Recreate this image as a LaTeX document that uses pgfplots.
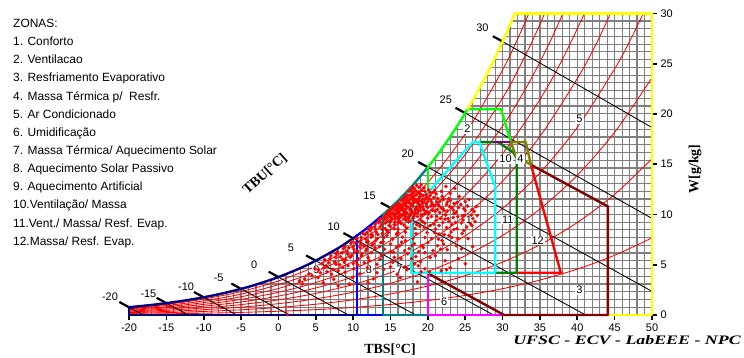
\documentclass[border=0pt]{standalone}
\usepackage{fontspec}
\setmainfont{Liberation Sans}
\newfontfamily\serifbf{Liberation Serif}
\usepackage{graphicx}
\usepackage{pgfplots}
\pgfplotsset{compat=1.18}
\definecolor{navyz}{RGB}{0,0,128}
\definecolor{bluez}{RGB}{0,0,255}
\definecolor{tealz}{RGB}{0,128,128}
\definecolor{limez}{RGB}{0,255,0}
\definecolor{cyanz}{RGB}{0,255,255}
\definecolor{dgreenz}{RGB}{0,128,0}
\definecolor{purplez}{RGB}{128,0,128}
\definecolor{olivez}{RGB}{128,128,0}
\definecolor{redz}{RGB}{255,0,0}
\definecolor{maroonz}{RGB}{128,0,0}
\definecolor{magentaz}{RGB}{255,0,255}
\definecolor{yellowz}{RGB}{255,255,0}
\definecolor{gridc}{RGB}{128,128,128}
\tikzset{
  zl/.style={fill=white, inner sep=1bp, font=\fontsize{11}{12}\selectfont},
  wl/.style={inner sep=0pt, font=\fontsize{11}{12}\selectfont},
  rh/.style={red, line width=0.85bp, smooth},
  wb/.style={black, line width=0.85bp},
  wt/.style={black, line width=2.2bp},
  zone/.style={line width=2.4bp, line join=round, line cap=round},
}
\begin{document}
\begin{tikzpicture}
\useasboundingbox (-129bp,-43bp) rectangle (615bp,315bp);
\begin{axis}[
  at={(0,0)}, anchor=south west,
  scale only axis, width=523bp, height=301.5bp,
  xmin=-20, xmax=50, ymin=0, ymax=30,
  clip=false,
  axis x line*=bottom, axis y line*=right,
  axis line style={draw=none},
  xtick={-20,-15,...,50}, ytick={0,5,...,30},
  minor xtick={-20,-19,...,50},
  minor ytick={0,0.77,...,30},
  grid=minor,
  minor grid style={draw=gridc, line width=1.2bp},
  minor tick length=0pt,
  major tick length=5bp,
  tick align=outside,
  major tick style={black, line width=1.6bp},
  tick label style={font=\fontsize{11}{12}\selectfont},
  /pgf/number format/assume math mode=true,
]
% white area above the saturation curve
\addplot[fill=white, draw=none] coordinates {(-20,0.771) (-18,0.920) (-16,1.085) (-14,1.280) (-12,1.505) (-10,1.762) (-8,2.063) (-6,2.407) (-4,2.803) (-2,3.255) (0,3.775) (2,4.364) (4,5.034) (6,5.795) (8,6.657) (10,7.632) (12,8.732) (14,9.973) (16,11.366) (18,12.938) (20,14.700) (22,16.667) (24,18.879) (25,20.088) (26,21.353) (27,22.696) (28,24.116) (29,25.616) (30,27.212) (31,28.883) (31.64,30) (31.7,30.5) (-20.5,30.5) (-20.5,0.771)};

% relative humidity curves
\addplot[rh] coordinates {(-20,0.077) (-15,0.118) (-10,0.176) (-5,0.259) (0,0.375) (5,0.536) (10,0.755) (15,1.049) (20,1.439) (25,1.952) (30,2.618) (35,3.475) (40,4.567) (45,5.946) (50,7.676)};
\addplot[rh] coordinates {(-20,0.154) (-15,0.236) (-10,0.352) (-5,0.518) (0,0.751) (5,1.073) (10,1.512) (15,2.101) (20,2.885) (25,3.916) (30,5.258) (35,6.989) (40,9.201) (45,12.008) (50,15.544)};
\addplot[rh] coordinates {(-20,0.231) (-15,0.353) (-10,0.528) (-5,0.777) (0,1.128) (5,1.611) (10,2.270) (15,3.157) (20,4.338) (25,5.893) (30,7.921) (35,10.542) (40,13.904) (45,18.187) (50,23.611)};
\addplot[rh] coordinates {(-20,0.308) (-15,0.471) (-10,0.704) (-5,1.037) (0,1.505) (5,2.150) (10,3.031) (15,4.217) (20,5.798) (25,7.882) (30,10.606) (35,14.136) (40,18.678) (45,24.488) (47,27.211) (48.84,30)};
\addplot[rh] coordinates {(-20,0.385) (-15,0.589) (-10,0.879) (-5,1.296) (0,1.882) (5,2.690) (10,3.793) (15,5.280) (20,7.264) (25,9.884) (30,13.315) (35,17.771) (40,23.524) (42.5,26.918) (44.43,30)};
\addplot[rh] coordinates {(-20,0.462) (-15,0.707) (-10,1.055) (-5,1.556) (0,2.260) (5,3.230) (10,4.557) (15,6.347) (20,8.737) (25,11.899) (30,16.046) (35,21.448) (38,25.418) (40.96,30)};
\addplot[rh] coordinates {(-20,0.539) (-15,0.824) (-10,1.231) (-5,1.816) (0,2.639) (5,3.771) (10,5.323) (15,7.417) (20,10.217) (25,13.926) (30,18.801) (33,22.409) (35,25.167) (36.5,27.427) (38.08,30)};
\addplot[rh] coordinates {(-20,0.616) (-15,0.942) (-10,1.407) (-5,2.076) (0,3.018) (5,4.313) (10,6.091) (15,8.492) (20,11.704) (25,15.967) (30,21.581) (32,24.285) (34,27.287) (35.63,30)};
\addplot[rh] coordinates {(-20,0.693) (-15,1.060) (-10,1.583) (-5,2.337) (0,3.396) (5,4.857) (10,6.860) (15,9.569) (20,13.199) (25,18.021) (30,24.384) (32,27.455) (33,29.11) (33.51,30)};

% wet bulb lines
\addplot[wb] coordinates {(-20,0.771) (-18.05,0)};
\addplot[wb] coordinates {(-15,1.178) (-12.03,0)};
\addplot[wb] coordinates {(-10,1.762) (-5.58,0)};
\addplot[wb] coordinates {(-5,2.598) (1.49,0)};
\addplot[wb] coordinates {(0,3.775) (9.385,0)};
\addplot[wb] coordinates {(5,5.403) (18.37,0)};
\addplot[wb] coordinates {(10,7.632) (28.80,0)};
\addplot[wb] coordinates {(15,10.651) (41.11,0)};
\addplot[wb] coordinates {(20,14.700) (50,2.35)};
\addplot[wb] coordinates {(25,20.088) (50,9.61)};
\addplot[wb] coordinates {(30,27.212) (50,18.65)};
% wet bulb ticks
\addplot[wt] coordinates {(-20,0.771) (-21.3,1.30)};
\addplot[wt] coordinates {(-15,1.178) (-16.3,1.71)};
\addplot[wt] coordinates {(-10,1.762) (-11.3,2.29)};
\addplot[wt] coordinates {(-5,2.598) (-6.3,3.13)};
\addplot[wt] coordinates {(0,3.775) (-1.3,4.31)};
\addplot[wt] coordinates {(5,5.403) (3.7,5.93)};
\addplot[wt] coordinates {(10,7.632) (8.7,8.16)};
\addplot[wt] coordinates {(15,10.651) (13.7,11.18)};
\addplot[wt] coordinates {(20,14.700) (18.7,15.23)};
\addplot[wt] coordinates {(25,20.088) (23.7,20.62)};
\addplot[wt] coordinates {(30,27.212) (28.7,27.74)};

% hourly climate data
\addplot[only marks, color=red, mark=*, mark size=1.6bp, mark options={draw=none, fill=red}] table[x=x, y=y] {
x y
17.9 12.75
18.2 12.6
18.5 12.9
18.8 12.7
19.1 12.95
19.5 12.65
17.5 12.3
17.8 12.45
18.1 12.2
18.4 12.35
18.8 12.25
19.2 12.4
19.6 12.3
20.1 12.45
20.7 12.2
16.9 11.75
17.2 11.95
17.5 11.9
17.8 12.05
18.1 11.8
18.5 11.95
18.9 12.1
19.3 11.85
19.8 12.0
20.3 11.9
21.1 12.05
16.4 11.4
16.7 11.55
17.0 11.45
17.3 11.65
17.7 11.5
18.0 11.7
18.4 11.45
18.8 11.6
19.3 11.5
19.8 11.7
20.4 11.45
21.3 11.6
22.1 11.5
15.8 10.95
16.1 11.15
16.4 11.0
16.7 11.25
17.0 11.1
17.4 11.3
17.8 11.05
18.2 11.2
18.7 11.1
19.2 11.3
19.8 11.05
20.5 11.2
21.4 11.0
22.6 11.25
23.5 11.1
15.3 10.7
15.6 10.85
15.9 10.6
16.2 10.8
16.6 10.65
17.0 10.9
17.5 10.7
18.0 10.85
18.6 10.6
19.3 10.8
20.0 10.7
20.9 10.9
21.8 10.65
22.9 10.8
24.1 10.7
25.3 10.85
14.7 10.3
15.0 10.45
15.3 10.2
15.7 10.4
16.1 10.25
16.5 10.5
17.0 10.3
17.6 10.45
18.3 10.2
19.0 10.4
19.8 10.3
20.7 10.45
21.6 10.2
22.6 10.35
23.8 10.25
25.0 10.4
26.2 10.3
14.2 9.85
14.5 10.0
14.8 9.9
15.2 10.05
15.7 9.8
16.2 9.95
16.8 10.1
17.5 9.85
18.2 10.0
19.1 9.9
20.1 10.05
21.2 9.8
22.4 9.95
23.5 10.1
24.6 9.85
25.8 9.95
13.5 9.45
13.8 9.6
14.2 9.5
14.6 9.65
15.1 9.4
15.6 9.55
16.3 9.7
17.1 9.45
18.0 9.6
19.0 9.5
20.0 9.65
21.1 9.4
22.3 9.55
23.4 9.7
24.7 9.45
26.0 9.6
13.0 9.05
13.4 9.2
13.8 9.0
14.3 9.15
14.9 9.25
15.5 9.0
16.4 9.1
17.4 9.25
18.5 9.0
19.6 9.15
20.8 9.05
22.0 9.2
23.2 9.0
24.5 9.15
25.7 9.1
12.1 8.6
12.5 8.7
13.0 8.55
13.6 8.75
14.3 8.6
15.0 8.8
16.0 8.55
17.1 8.7
18.3 8.6
19.5 8.75
21.0 8.55
22.5 8.7
23.9 8.6
25.2 8.75
11.3 8.1
11.8 8.2
12.4 8.05
13.1 8.25
13.9 8.1
14.7 8.2
15.8 8.05
17.0 8.25
18.4 8.1
19.9 8.2
21.5 8.05
23.1 8.25
24.6 8.1
10.5 7.6
11.1 7.7
11.7 7.55
12.4 7.75
13.2 7.6
14.1 7.7
15.3 7.55
16.6 7.75
18.0 7.6
19.6 7.7
21.4 7.55
23.2 7.7
9.7 7.1
10.3 7.2
11.0 7.05
11.8 7.25
12.7 7.1
13.7 7.2
15.0 7.05
16.5 7.25
18.2 7.1
20.0 7.2
22.1 7.05
8.7 6.6
9.4 6.7
10.1 6.55
10.9 6.75
11.8 6.6
12.9 6.7
14.2 6.55
15.8 6.75
17.5 6.6
19.4 6.7
21.7 6.55
7.7 6.1
8.5 6.2
9.3 6.05
10.2 6.25
11.2 6.1
12.4 6.2
13.8 6.05
15.4 6.25
17.3 6.1
19.6 6.2
6.9 5.6
7.7 5.7
8.6 5.55
9.6 5.75
10.7 5.6
12.0 5.7
13.6 5.55
15.5 5.75
17.8 5.6
20.3 5.7
5.8 5.1
6.7 5.2
7.7 5.05
8.8 5.25
10.0 5.1
11.5 5.2
13.2 5.05
15.3 5.25
18.2 5.1
4.9 4.6
6.1 4.7
7.3 4.55
8.6 4.75
10.1 4.6
11.9 4.7
14.1 4.55
16.8 4.75
19.6 4.6
4.1 4.1
5.6 4.2
7.1 4.05
8.9 4.25
10.9 4.1
13.2 4.2
15.9 4.05
20.2 4.3
3.5 3.6
5.3 3.7
7.4 3.55
9.9 3.75
12.7 3.6
16.3 3.7
3.2 3.1
6.0 3.2
9.5 3.1
15.4 10.1
15.9 10.3
16.4 10.6
16.9 10.5
17.3 10.75
17.7 11.0
18.1 11.4
18.5 11.3
18.9 11.75
19.4 11.9
16.0 9.6
16.6 9.9
17.2 10.15
17.8 10.35
18.4 10.6
18.9 10.95
19.5 11.2
20.1 11.6
15.0 9.75
15.6 10.0
16.3 10.0
17.0 9.8
17.7 10.1
18.6 10.15
19.4 10.55
20.4 10.85
14.5 9.3
15.2 9.6
16.0 9.2
16.8 9.55
17.6 9.9
18.6 9.8
19.6 10.1
20.6 10.4
21.3 10.5
22.0 10.6
21.6 11.3
22.8 11.6
23.2 10.7
24.4 11.0
20.9 12.4
21.8 12.3
23.0 12.1
24.2 11.8
25.5 11.5
26.5 10.8
22.4 12.8
23.6 12.6
1.2 0.05
22.5 4.5
18.6 3.3
12.0 3.2
8.0 2.9
2.8 3.4
14.4 9.7
14.6 10.1
14.9 10.2
15.1 10.5
15.4 10.55
15.5 9.85
15.8 10.15
15.9 10.75
16.1 9.75
16.3 10.45
16.5 10.95
16.7 10.35
16.8 11.0
17.0 10.05
17.1 10.6
17.3 11.25
17.4 9.65
17.5 11.15
17.7 10.55
17.8 11.75
17.9 10.2
18.0 11.1
18.1 9.8
18.2 11.55
18.3 10.45
18.4 11.95
18.5 10.75
18.6 12.1
18.7 10.35
18.8 11.35
19.0 10.7
19.1 11.95
19.2 10.0
19.3 11.1
19.5 10.4
19.6 11.5
19.8 10.8
20.0 11.3
20.2 10.2
20.3 12.2
20.6 11.0
20.8 11.7
21.0 10.3
21.2 11.25
21.5 10.85
21.9 11.8
22.2 10.4
22.5 11.0
23.0 11.4
23.4 10.45
23.9 11.2
24.8 10.6
25.0 11.3
25.9 10.5
16.2 9.35
17.6 9.35
19.3 9.3
20.5 9.8
21.7 9.6
22.8 9.3
24.0 9.8
15.6 9.25
14.8 8.9
16.8 8.95
18.9 8.85
20.3 8.9
6.2 5.5
7.0 5.9
7.9 6.3
8.3 5.8
8.9 6.8
9.2 6.3
9.8 7.3
10.0 6.8
10.4 7.6
10.6 6.3
11.0 7.4
11.4 6.9
11.6 8.0
12.0 7.3
12.3 8.4
12.6 7.9
12.9 8.8
13.3 8.0
13.6 9.3
13.9 8.5
5.4 4.5
6.4 4.9
7.5 5.3
8.2 5.0
9.0 5.5
9.8 5.9
10.4 5.3
11.1 5.9
11.7 6.4
12.5 6.9
13.0 7.4
13.5 6.8
14.0 7.3
14.5 7.9
4.5 3.9
6.5 4.3
8.0 4.4
9.3 4.9
10.6 5.0
12.2 5.4
13.8 5.9
15.0 6.3
16.2 6.9
17.0 7.4
16.0 8.2
15.5 8.6
14.5 8.4
21.5 8.9
22.7 9.6
23.7 9.2
24.9 9.9
26.3 9.3
20.9 8.2
22.2 8.0
23.5 8.5
24.8 8.4
25.9 8.9
26.6 9.9
20.5 7.6
21.9 7.4
22.8 7.9
24.0 7.6
19.2 6.9
20.7 6.4
21.3 6.9
18.8 6.3
17.9 6.9
16.9 6.4
18.4 5.8
19.0 5.3
16.4 5.6
21.0 5.9
22.6 6.5
23.8 6.9
25.4 7.6
24.5 6.6
22.3 5.4
17.2 4.5
19.1 4.3
15.0 4.8
18.7 4.9
23.0 4.7
25.0 5.1
21.8 4.4
24.1 5.6
26.0 6.8
};

% zones
\addplot[zone, navyz] coordinates {(10.5,0) (-20,0) (-20,0.771)};
\addplot[zone, navyz, smooth] coordinates {(-20,0.771) (-16,1.085) (-12,1.505) (-8,2.063) (-4,2.803) (0,3.775) (4,5.034) (8,6.657) (10.5,7.895)};
\addplot[zone, bluez] coordinates {(14,0) (10.5,0) (10.5,7.895)};
\addplot[zone, bluez, smooth] coordinates {(10.5,7.895) (12,8.732) (14,9.973)};
\addplot[zone, tealz] coordinates {(20,0) (14,0) (14,9.973)};
\addplot[zone, tealz, smooth] coordinates {(14,9.973) (16,11.366) (18,12.938) (20,14.700)};
\addplot[zone, limez] coordinates {(20,12.15) (20,14.700)};
\addplot[zone, limez, smooth] coordinates {(20,14.700) (22,16.667) (24,18.879) (25.3,20.47)};
\addplot[zone, limez] coordinates {(25.3,20.47) (29.8,20.47) (31.1,17.2)};
\addplot[zone, yellowz, smooth] coordinates {(25.3,20.47) (26,21.353) (27,22.696) (28,24.116) (29,25.616) (30,27.212) (31,28.883) (31.64,30)};
\addplot[zone, yellowz] coordinates {(31.64,30) (50,30) (50,0) (44.1,0)};
\addplot[zone, magentaz] coordinates {(20,4.15) (20,0) (30.2,0)};
\addplot[zone, maroonz] coordinates {(33.8,14.95) (44.1,10.8) (44.1,0) (30.2,0) (20,4.15)};
\addplot[zone, redz] coordinates {(31.9,4.2) (37.8,4.2) (33.8,14.95)};
\addplot[zone, dgreenz] coordinates {(26.9,17.2) (29.4,17.2) (31.4,16.2) (31.9,15.6) (31.9,4.2) (29,4.2)};
\addplot[zone, purplez] coordinates {(28.8,17.2) (31.1,17.2)};
\addplot[zone, olivez] coordinates {(31.1,17.2) (33.1,17.2) (33.8,14.95) (31.8,15.8) (31.1,17.2)};
\addplot[zone, cyanz] coordinates {(17.8,4.2) (17.8,10.3) (26,17.2) (26.9,17.2) (29,12.8) (29,4.2) (17.8,4.2)};

% zone numbers
\node[zl] at (axis cs:25.5,9.5) {1};
\node[zl] at (axis cs:25.3,18.5) {2};
\node[zl] at (axis cs:40.3,2.5) {3};
\node[zl] at (axis cs:32.4,15.5) {4};
\node[zl] at (axis cs:40.3,19.5) {5};
\node[zl] at (axis cs:22.2,1.3) {6};
\node[zl] at (axis cs:16.2,4.5) {7};
\node[zl] at (axis cs:12.1,4.5) {8};
\node[zl] at (axis cs:5.1,4.5) {9};
\node[zl] at (axis cs:30.4,15.5) {10};
\node[zl] at (axis cs:30.7,9.5) {11};
\node[zl] at (axis cs:34.7,7.4) {12};

% wet bulb labels
\node[wl] at (axis cs:-22.55,1.8) {-20};
\node[wl] at (axis cs:-17.4,2.16) {-15};
\node[wl] at (axis cs:-12.36,2.83) {-10};
\node[wl] at (axis cs:-8.0,3.72) {-5};
\node[wl] at (axis cs:-3.24,4.99) {0};
\node[wl] at (axis cs:1.68,6.65) {5};
\node[wl] at (axis cs:7.4,8.8) {10};
\node[wl] at (axis cs:12.2,11.9) {15};
\node[wl] at (axis cs:17.3,16.05) {20};
\node[wl] at (axis cs:22.4,21.4) {25};
\node[wl] at (axis cs:27.3,28.6) {30};
\end{axis}

% axis titles
\node[font=\serifbf\bfseries\fontsize{14}{14}\selectfont] at (261bp,-35bp) {TBS[°C]};
\node[font=\serifbf\bfseries\fontsize{14}{14}\selectfont, rotate=90] at (566bp,146bp) {W[g/kg]};
\node[font=\serifbf\bfseries\fontsize{14}{14}\selectfont, rotate=42, inner sep=0pt] at (136bp,141bp) {TBU[°C]};
\node[font=\serifbf\bfseries\itshape\fontsize{13}{13}\selectfont] at (498bp,-25bp) {\scalebox{1.38}[1]{UFSC - ECV - LabEEE - NPC}};

% zone list
\begin{scope}[every node/.style={anchor=base west, inner sep=0pt, font=\fontsize{12}{14}\selectfont}]
\node at (-116bp,287.5bp) {ZONAS:};
\node at (-116bp,269.35bp) {1. Conforto};
\node at (-116bp,251.2bp) {2. Ventilacao};
\node at (-116bp,233.05bp) {3. Resfriamento Evaporativo};
\node at (-116bp,214.9bp) {4. Massa Térmica p/\ \ Resfr.};
\node at (-116bp,196.75bp) {5. Ar Condicionado};
\node at (-116bp,178.6bp) {6. Umidificação};
\node at (-116bp,160.45bp) {7. Massa Térmica/ Aquecimento Solar};
\node at (-116bp,142.3bp) {8. Aquecimento Solar Passivo};
\node at (-116bp,124.15bp) {9. Aquecimento Artificial};
\node at (-116bp,106bp) {10.Ventilação/ Massa};
\node at (-116bp,87.85bp) {11.Vent./ Massa/ Resf. Evap.};
\node at (-116bp,69.7bp) {12.Massa/ Resf. Evap.};
\end{scope}
\end{tikzpicture}
\end{document}
